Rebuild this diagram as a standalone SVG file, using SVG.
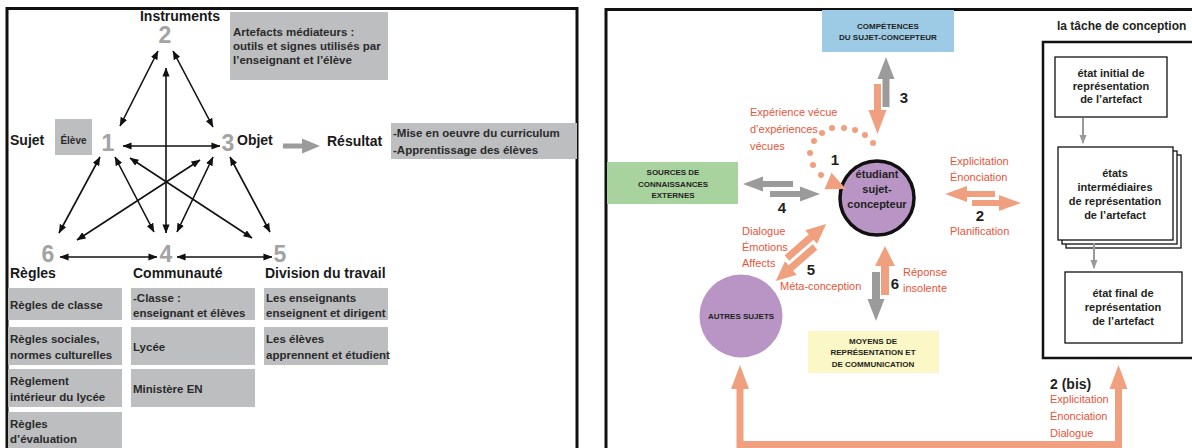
<svg xmlns="http://www.w3.org/2000/svg" width="1192" height="448" viewBox="0 0 1192 448">
<defs>
<marker id="ah" viewBox="0 0 10 8" refX="9.5" refY="4" markerWidth="9" markerHeight="7.5" markerUnits="userSpaceOnUse" orient="auto-start-reverse"><path d="M0,0 L10,4 L0,8 z" fill="#111"/></marker>
<marker id="gh" viewBox="0 0 10 8" refX="9" refY="4" markerWidth="9" markerHeight="8" markerUnits="userSpaceOnUse" orient="auto"><path d="M0,0 L10,4 L0,8 z" fill="#999"/></marker>
<path id="diag" d="M0,-3.5 L32,-3.5 L32,-9 L52,0 L32,9 L32,3.5 L0,3.5 z"/>
</defs>
<style>
text{font-family:"Liberation Sans",Arial,sans-serif}
.lbl{font-size:14px;font-weight:bold;fill:#1a1a1a}
.num{font-size:23px;font-weight:bold;fill:#a3a3a3;text-anchor:middle}
.box{fill:#bdbec0}
.bt{font-size:11.5px;font-weight:bold;fill:#2a2a2a}
.ar{stroke:#111;stroke-width:1.6;fill:none;marker-start:url(#ah);marker-end:url(#ah)}
.or{fill:#f0a07e}
.gr{fill:#9b9b9b}
.ot{font-size:11px;fill:#e8553b}
.cap{font-size:8px;font-weight:bold;fill:#231f20;text-anchor:middle}
.dig{font-size:15px;font-weight:bold;fill:#231f20;text-anchor:middle}
.ct{font-size:11px;font-weight:bold;fill:#231f20;text-anchor:middle}
.frame{fill:none;stroke:#111;stroke-width:3}
.tb{fill:#fff;stroke:#111;stroke-width:1.3}
</style>
<rect width="1192" height="448" fill="#fff"/>

<!-- Frames -->
<g id="frames">
<path class="frame" d="M7,450 V8.5 H577 V450"/>
<path class="frame" d="M606,450 V9.5 H1200"/>
</g>

<!-- LEFT PANEL nodes -->
<g id="n2">
<text class="lbl" x="180" y="21" text-anchor="middle">Instruments</text>
<text class="num" x="165" y="43">2</text>
</g>
<g id="artefacts">
<rect class="box" x="230" y="12" width="158" height="68"/>
<text class="bt" font-size="12" x="233" y="36">Artefacts médiateurs :</text>
<text class="bt" font-size="12" x="233" y="50">outils et signes utilisés par</text>
<text class="bt" font-size="12" x="233" y="64">l’enseignant et l’élève</text>
</g>
<g id="n1">
<text class="lbl" x="10" y="145">Sujet</text>
<rect class="box" x="55" y="119" width="37" height="36"/>
<text x="73.5" y="144" font-size="10" font-weight="bold" fill="#2a2a2a" text-anchor="middle">Élève</text>
<text class="num" x="108" y="151">1</text>
</g>
<g id="n3">
<text class="num" x="228" y="151">3</text>
<text class="lbl" x="237" y="145">Objet</text>
</g>
<g id="resultat">
<text class="lbl" x="327" y="146">Résultat</text>
<rect class="box" x="391" y="123" width="186" height="36"/>
<text class="bt" x="393" y="137">-Mise en oeuvre du curriculum</text>
<text class="bt" x="393" y="154">-Apprentissage des élèves</text>
</g>
<g id="n6">
<text class="num" x="48" y="262">6</text>
<text class="lbl" x="10" y="278">Règles</text>
<rect class="box" x="8" y="288" width="114" height="32"/>
<text class="bt" x="10" y="309">Règles de classe</text>
<rect class="box" x="8" y="327" width="114" height="38"/>
<text class="bt" x="10" y="343">Règles sociales,</text>
<text class="bt" x="10" y="359">normes culturelles</text>
<rect class="box" x="8" y="369" width="114" height="38"/>
<text class="bt" x="10" y="385">Règlement</text>
<text class="bt" x="10" y="401">intérieur du lycée</text>
<rect class="box" x="8" y="412" width="114" height="40"/>
<text class="bt" x="10" y="428">Règles</text>
<text class="bt" x="10" y="443"> d’évaluation</text>
</g>
<g id="n4">
<text class="num" x="166" y="262">4</text>
<text class="lbl" x="133" y="278">Communauté</text>
<rect class="box" x="131" y="288" width="124" height="32"/>
<text class="bt" x="133" y="302">-Classe :</text>
<text class="bt" x="133" y="317">enseignant et élèves</text>
<rect class="box" x="131" y="327" width="124" height="38"/>
<text class="bt" x="133" y="351">Lycée</text>
<rect class="box" x="131" y="369" width="124" height="38"/>
<text class="bt" x="133" y="393">Ministère EN</text>
</g>
<g id="n5">
<text class="num" x="280" y="262">5</text>
<text class="lbl" x="265" y="278">Division du travail</text>
<rect class="box" x="264" y="288" width="124" height="32"/>
<text class="bt" x="266" y="302">Les enseignants</text>
<text class="bt" x="266" y="317">enseignent et dirigent</text>
<rect class="box" x="264" y="327" width="124" height="38"/>
<text class="bt" x="266" y="343">Les élèves</text>
<text class="bt" x="266" y="359">apprennent et étudient</text>
</g>

<!-- RIGHT PANEL nodes -->
<g id="competences">
<rect x="822" y="10" width="132" height="42" fill="#9dcbe6"/>
<text class="cap" x="888" y="29">COMPÉTENCES</text>
<text class="cap" x="888" y="40">DU SUJET-CONCEPTEUR</text>
</g>
<g id="sources">
<rect x="607" y="162" width="131" height="42" fill="#a8d39e"/>
<text class="cap" x="673" y="175">SOURCES DE</text>
<text class="cap" x="673" y="187">CONNAISSANCES</text>
<text class="cap" x="673" y="198">EXTERNES</text>
</g>
<g id="etudiant">
<circle cx="877" cy="198" r="37" fill="#b895c5" stroke="#111" stroke-width="3.5"/>
<text class="ct" x="877" y="178">étudiant</text>
<text class="ct" x="877" y="193">sujet-</text>
<text class="ct" x="877" y="208">concepteur</text>
</g>
<g id="autres">
<circle cx="741" cy="316" r="41.5" fill="#b895c5"/>
<text class="cap" x="741" y="319">AUTRES SUJETS</text>
</g>
<g id="moyens">
<rect x="808" y="331" width="131" height="42" fill="#fbf7c6"/>
<text class="cap" x="873" y="344">MOYENS DE</text>
<text class="cap" x="873" y="355">REPRÉSENTATION ET</text>
<text class="cap" x="873" y="367">DE COMMUNICATION</text>
</g>
<g id="tache">
<text x="1057" y="30" font-size="12" font-weight="bold" fill="#231f20">la tâche de conception</text>
<rect x="1043" y="42" width="160" height="316" fill="none" stroke="#111" stroke-width="2.5"/>
</g>
<g id="etat-initial">
<rect class="tb" x="1055" y="57" width="112" height="60"/>
<text class="ct" x="1111" y="77">état initial de</text>
<text class="ct" x="1111" y="90">représentation</text>
<text class="ct" x="1111" y="103">de l’artefact</text>
</g>
<g id="etats-intermediaires">
<rect class="tb" x="1066" y="155" width="115" height="93"/>
<rect class="tb" x="1062" y="151" width="115" height="93"/>
<rect class="tb" x="1058" y="147" width="115" height="93"/>
<text class="ct" x="1115" y="177">états</text>
<text class="ct" x="1115" y="191">intermédiaires</text>
<text class="ct" x="1115" y="205">de représentation</text>
<text class="ct" x="1115" y="219">de l’artefact</text>
</g>
<g id="etat-final">
<rect class="tb" x="1065" y="272" width="117" height="71"/>
<text class="ct" x="1123" y="297">état final de</text>
<text class="ct" x="1123" y="311">représentation</text>
<text class="ct" x="1123" y="325">de l’artefact</text>
</g>

<!-- CONNECTORS -->
<g id="connectors">
<!-- left triangle -->
<line class="ar" x1="120" y1="126" x2="158" y2="51"/>
<line class="ar" x1="173" y1="51" x2="213" y2="127"/>
<line class="ar" x1="166" y1="68" x2="166" y2="233"/>
<line class="ar" x1="123" y1="146" x2="220" y2="146"/>
<line class="ar" x1="100" y1="157" x2="59" y2="233"/>
<line class="ar" x1="115" y1="157" x2="154" y2="232"/>
<line class="ar" x1="130" y1="158" x2="252" y2="238"/>
<line class="ar" x1="200" y1="160" x2="77" y2="240"/>
<line class="ar" x1="213" y1="157" x2="177" y2="232"/>
<line class="ar" x1="230" y1="157" x2="270" y2="232"/>
<line class="ar" x1="60" y1="257" x2="157" y2="257"/>
<line class="ar" x1="177" y1="257" x2="272" y2="257"/>
<polygon class="gr" points="283,143.5 302,143.5 302,138.5 320,146 302,153.5 302,148.5 283,148.5"/>

<!-- 3 -->
<polygon class="gr" points="886,57 894.5,79 889.5,79 889.5,107 882.5,107 882.5,79 877.5,79"/>
<polygon class="or" points="877.5,134 886.5,110 881,110 881,84 874,84 874,110 868.5,110"/>
<text class="dig" x="904" y="103">3</text>

<!-- 1 dotted -->
<g class="or">
<circle cx="873" cy="143" r="3"/>
<circle cx="865" cy="135" r="3"/>
<circle cx="855" cy="130" r="3"/>
<circle cx="844" cy="128" r="3"/>
<circle cx="832" cy="128" r="3"/>
<circle cx="822" cy="133" r="3"/>
<circle cx="814" cy="141" r="3"/>
<circle cx="810" cy="153" r="3"/>
<circle cx="813" cy="165" r="3"/>
<circle cx="821" cy="175" r="3"/>
<polygon points="846,189 831.5,172.7 824.5,189.3"/>
</g>
<text class="dig" x="835" y="165">1</text>
<text class="ot" x="750" y="116">Expérience vécue</text>
<text class="ot" x="750" y="133">d’expériences</text>
<text class="ot" x="750" y="150">vécues</text>

<!-- 4 -->
<polygon class="gr" points="743,184 763,176.5 763,181 793,181 793,187 763,187 763,191.5"/>
<polygon class="gr" points="820,194 800,186.5 800,191 770,191 770,197 800,197 800,201.5"/>
<text class="dig" x="782" y="213">4</text>

<!-- 2 -->
<polygon class="or" points="945,194 967,186 967,191 995,191 995,197 967,197 967,202"/>
<polygon class="or" points="1021,203 999,195 999,200 972,200 972,206 999,206 999,211"/>
<text class="ot" x="950" y="165">Explicitation</text>
<text class="ot" x="950" y="181">Énonciation</text>
<text class="dig" x="980" y="221">2</text>
<text class="ot" x="950" y="235">Planification</text>

<!-- 5 -->
<use href="#diag" class="or" transform="translate(787,258) rotate(-41)"/>
<use href="#diag" class="or" transform="translate(815,247) rotate(139)"/>
<text class="ot" x="742" y="235">Dialogue</text>
<text class="ot" x="742" y="251">Émotions</text>
<text class="ot" x="742" y="267">Affects</text>
<text class="dig" x="811" y="275">5</text>
<text class="ot" x="780" y="290">Méta-conception</text>

<!-- 6 -->
<polygon class="or" points="885,246 895,266 889,266 889,295 881,295 881,266 875,266"/>
<polygon class="gr" points="876,321 884.5,299 880,299 880,272 872,272 872,299 867.5,299"/>
<text class="dig" x="895" y="289">6</text>
<text class="ot" x="903" y="276">Réponse</text>
<text class="ot" x="903" y="292">insolente</text>

<!-- task internal arrows -->
<line x1="1083" y1="118" x2="1083" y2="143" stroke="#999" stroke-width="2" marker-end="url(#gh)"/>
<line x1="1094" y1="243" x2="1094" y2="268" stroke="#999" stroke-width="2" marker-end="url(#gh)"/>

<!-- 2 (bis) -->
<path d="M740,386 V444.5 H1118.5 V386" fill="none" stroke="#f0a07e" stroke-width="7"/>
<polygon class="or" points="740,365 731,389 749,389"/>
<polygon class="or" points="1118.5,365 1109.5,389 1127.5,389"/>
<text x="1050" y="389" font-size="14" font-weight="bold" fill="#231f20">2 (bis)</text>
<text class="ot" x="1050" y="403">Explicitation</text>
<text class="ot" x="1050" y="420">Énonciation</text>
<text class="ot" x="1050" y="437">Dialogue</text>
</g>
</svg>
